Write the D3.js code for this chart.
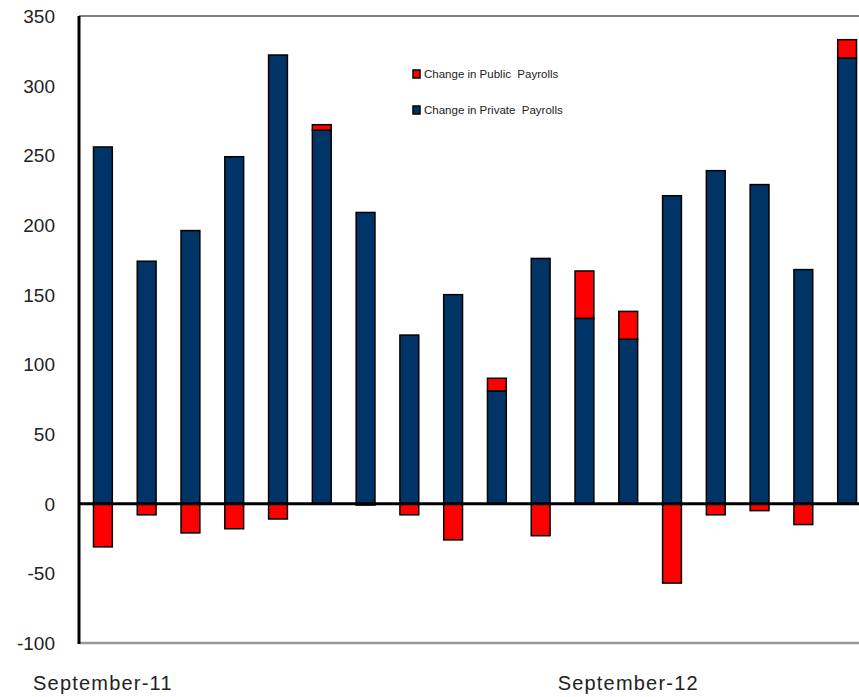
<!DOCTYPE html>
<html>
<head>
<meta charset="utf-8">
<script src="https://cdn.jsdelivr.net/npm/d3@7"></script>
<style>
  body { margin: 0; background: #fff; }
  svg { display: block; }
</style>
</head>
<body>
<div id="chart"></div>
<script>
// monthly changes, thousands (Sep-11 .. Feb-13)
const months = ['Sep-11','Oct-11','Nov-11','Dec-11','Jan-12','Feb-12','Mar-12','Apr-12','May-12',
                'Jun-12','Jul-12','Aug-12','Sep-12','Oct-12','Nov-12','Dec-12','Jan-13','Feb-13'];
const privatePayrolls = [256, 174, 196, 249, 322, 268, 209, 121, 150, 81, 176, 133, 118, 221, 239, 229, 168, 320];
const publicPayrolls  = [-31, -8, -21, -18, -11, 4, -1, -8, -26, 9, -23, 34, 20, -57, -8, -5, -15, 13];
const yTicks = [-100, -50, 0, 50, 100, 150, 200, 250, 300, 350];
const xLabels = [{m: 'Sep-11', text: 'September-11'}, {m: 'Sep-12', text: 'September-12'}];

const W = 859, H = 697;
const plotLeft = 79, plotTop = 16, plotBottom = 643;

const svg = d3.select('#chart').append('svg')
    .attr('width', W)
    .attr('height', H);

const x = d3.scaleBand()
    .domain(months)
    .range([81, 869])
    .paddingInner(0.57)
    .paddingOuter(0.285);

const y = d3.scaleLinear()
    .domain([-100, 350])
    .range([plotBottom, plotTop]);

// stack: private from 0, public on top if positive, below 0 if negative
const rows = months.map((m, i) => {
    const p = privatePayrolls[i], g = publicPayrolls[i];
    return {
        m: m,
        priv: [0, p],
        pub: g >= 0 ? [p, p + g] : [g, 0]
    };
});

const bars = svg.append('g');

bars.selectAll('.priv')
    .data(rows)
    .enter().append('rect')
    .attr('class', 'priv')
    .attr('x', d => x(d.m))
    .attr('width', x.bandwidth())
    .attr('y', d => y(d.priv[1]))
    .attr('height', d => y(d.priv[0]) - y(d.priv[1]))
    .style('fill', '#003366')
    .style('stroke', '#000')
    .style('stroke-width', '1.5px');

bars.selectAll('.pub')
    .data(rows)
    .enter().append('rect')
    .attr('class', 'pub')
    .attr('x', d => x(d.m))
    .attr('width', x.bandwidth())
    .attr('y', d => y(d.pub[1]))
    .attr('height', d => y(d.pub[0]) - y(d.pub[1]))
    .style('fill', '#ff0000')
    .style('stroke', '#000')
    .style('stroke-width', '1.5px');

// frame: grey top and bottom, black left axis, black zero line
svg.append('line')
    .attr('x1', plotLeft).attr('x2', W)
    .attr('y1', y(350)).attr('y2', y(350))
    .style('stroke', '#808080').style('stroke-width', '2px');
svg.append('line')
    .attr('x1', plotLeft).attr('x2', W)
    .attr('y1', y(-100)).attr('y2', y(-100))
    .style('stroke', '#999').style('stroke-width', '2.5px');
svg.append('line')
    .attr('x1', plotLeft).attr('x2', plotLeft)
    .attr('y1', y(350)).attr('y2', y(-100) + 1)
    .style('stroke', '#000').style('stroke-width', '3px');
svg.append('line')
    .attr('x1', plotLeft).attr('x2', W)
    .attr('y1', y(0)).attr('y2', y(0))
    .style('stroke', '#000').style('stroke-width', '3px');

// y tick labels
svg.append('g').selectAll('text')
    .data(yTicks)
    .enter().append('text')
    .attr('x', 55)
    .attr('y', d => y(d))
    .attr('dy', '0.36em')
    .attr('text-anchor', 'end')
    .style('font-family', '"Liberation Sans", Arial, sans-serif')
    .style('font-size', '19px')
    .style('fill', '#222')
    .text(d => d);

// x labels
svg.append('g').selectAll('text')
    .data(xLabels)
    .enter().append('text')
    .attr('x', d => x(d.m) + x.bandwidth() / 2)
    .attr('y', 690)
    .attr('text-anchor', 'middle')
    .style('font-family', '"Liberation Sans Narrow", "Liberation Sans", Arial, sans-serif')
    .style('font-size', '20px')
    .style('letter-spacing', '1.2px')
    .style('fill', '#222')
    .text(d => d.text);

// legend
const legendItems = [
    {label: 'Change in Public  Payrolls', color: '#ff0000'},
    {label: 'Change in Private  Payrolls', color: '#003366'}
];
const legend = svg.append('g').attr('transform', 'translate(413,74)');
const li = legend.selectAll('g')
    .data(legendItems)
    .enter().append('g')
    .attr('transform', (d, i) => `translate(0,${i * 36})`);
li.append('rect')
    .attr('x', 0).attr('y', -4)
    .attr('width', 7).attr('height', 8)
    .style('fill', d => d.color)
    .style('stroke', '#000')
    .style('stroke-width', '1.5px');
li.append('text')
    .attr('x', 11)
    .attr('y', 0)
    .attr('dy', '0.36em')
    .style('font-family', '"Liberation Sans Narrow", "Liberation Sans", Arial, sans-serif')
    .style('font-size', '11.5px')
    .style('white-space', 'pre')
    .style('fill', '#222')
    .text(d => d.label);
</script>
</body>
</html>
